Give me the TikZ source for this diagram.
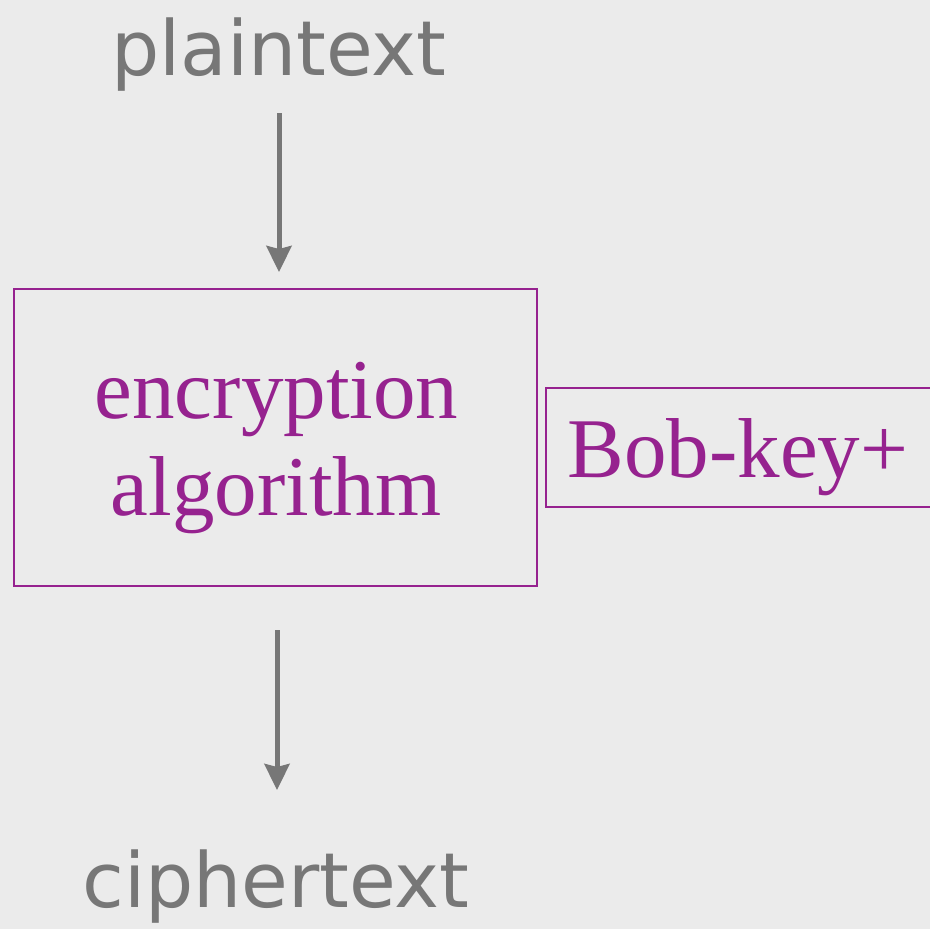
\documentclass[tikz,border=0pt]{standalone}
\usepackage{fontspec}
\setmainfont{Liberation Serif}
\newfontfamily\handfont{DejaVu Sans}
\usetikzlibrary{arrows.meta}
\definecolor{bgc}{HTML}{EBEBEB}
\definecolor{purp}{HTML}{96228F}
\definecolor{grayc}{HTML}{777777}
\tikzset{
  boxstyle/.style={draw=purp, line width=2pt, inner sep=0pt},
  serif/.style={text=purp, font=\fontsize{85}{97}\selectfont, inner sep=0pt, anchor=base},
  hand/.style={text=grayc, font=\handfont\fontsize{76}{90}\selectfont, inner sep=0pt, anchor=base},
  arr/.style={draw=grayc, line width=5pt, -{Stealth[length=26pt,width=25pt,inset=3pt]}}
}
\begin{document}
\begin{tikzpicture}[x=1pt,y=-1pt]
\fill[bgc] (0,0) rectangle (930,929);
\useasboundingbox (0,0) rectangle (930,929);
\node[hand] (plain) at (279,75) {plaintext};
\node[hand] (cipher) at (276,907) {ciphertext};
\node[boxstyle, minimum width=523pt, minimum height=297pt] (enc) at (275.5,437.5) {};
\node[serif] (enc1) at (276.5,418) {encryption};
\node[serif] (enc2) at (276,515) {algorithm};
\node[boxstyle, minimum width=404pt, minimum height=119pt] (key) at (748,447.5) {};
\node[serif] (keytext) at (738,477) {Bob-key+};
\coordinate (a1s) at (279,113);
\coordinate (a1e) at (279,272);
\coordinate (a2s) at (277,630);
\coordinate (a2e) at (277,790);
\draw[arr] (a1s) -- (a1e);
\draw[arr] (a2s) -- (a2e);
\end{tikzpicture}
\end{document}
